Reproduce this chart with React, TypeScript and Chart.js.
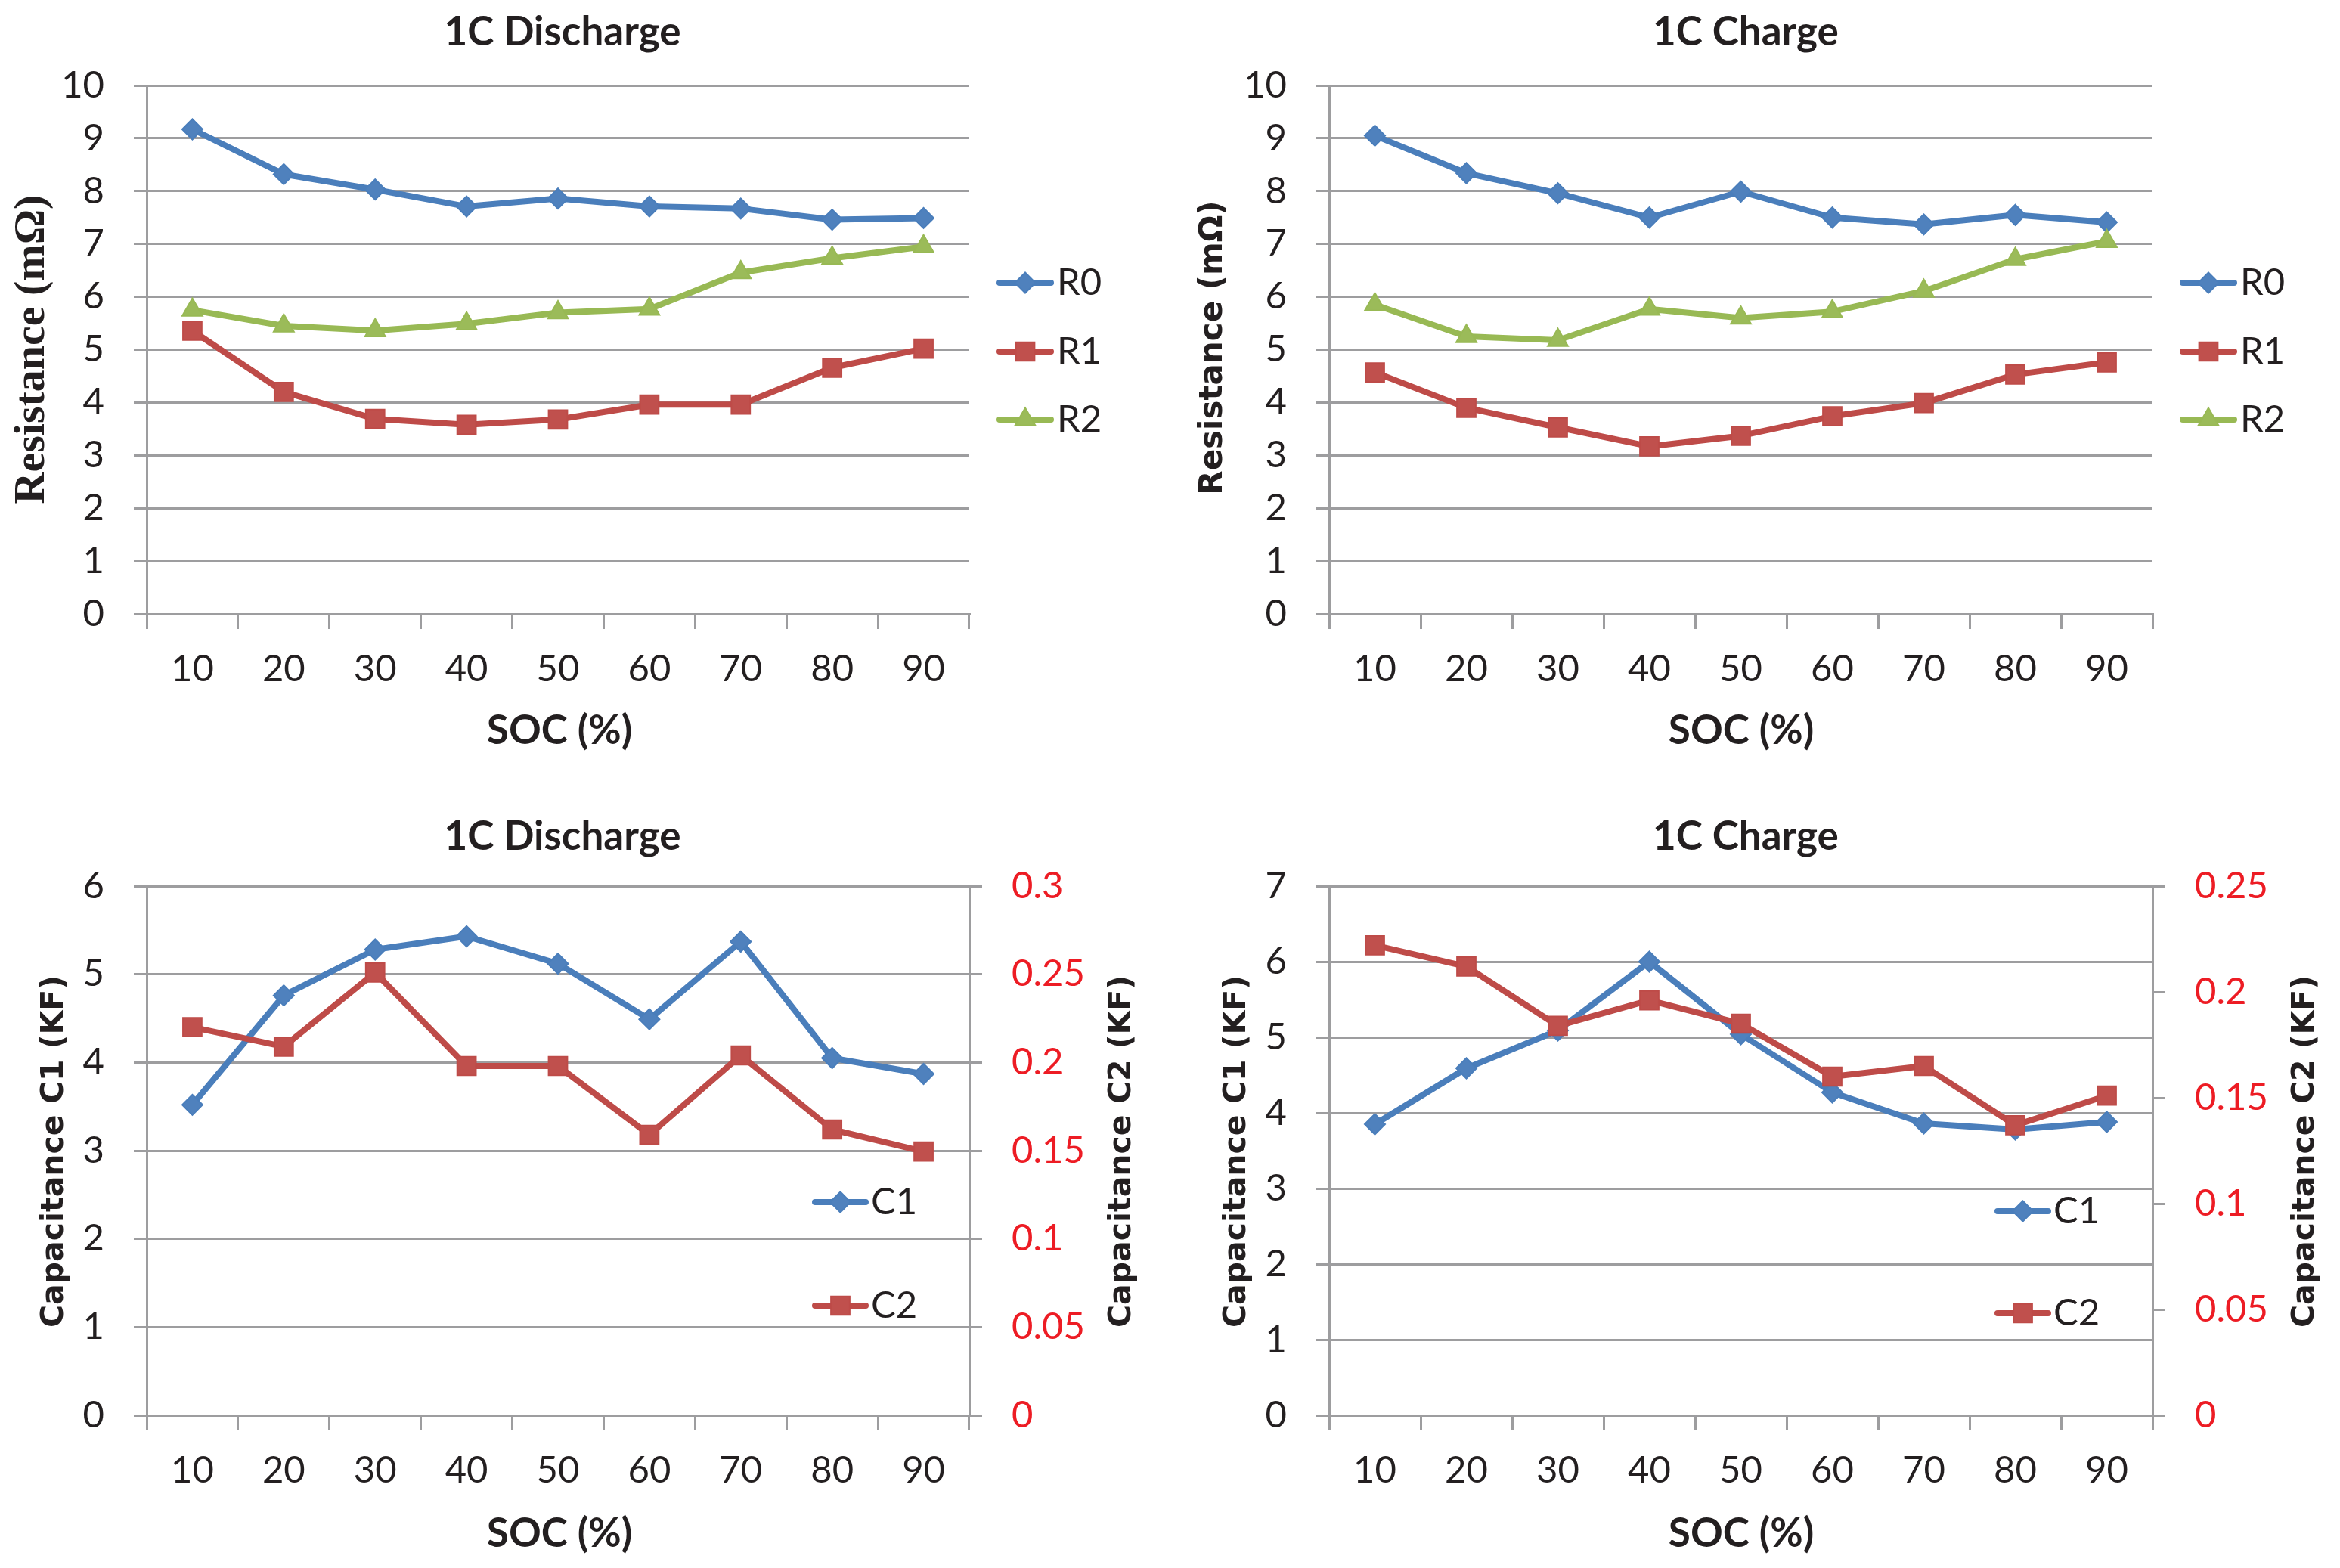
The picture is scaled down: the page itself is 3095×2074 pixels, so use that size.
import React, { useEffect, useRef } from 'react';
import { Chart, registerables } from 'chart.js';
import { drawPoint } from 'chart.js/helpers';

Chart.register(...registerables);

// ---------------- data ----------------
const SOC_LABELS = ['10', '20', '30', '40', '50', '60', '70', '80', '90'];

const DIS_R0 = [9.17, 8.32, 8.03, 7.71, 7.86, 7.71, 7.67, 7.46, 7.49];
const DIS_R1 = [5.36, 4.2, 3.69, 3.58, 3.68, 3.96, 3.96, 4.66, 5.02];
const DIS_R2 = [5.75, 5.45, 5.36, 5.49, 5.7, 5.77, 6.46, 6.73, 6.95];

const CHG_R0 = [9.05, 8.34, 7.96, 7.5, 7.99, 7.5, 7.37, 7.55, 7.41];
const CHG_R1 = [4.57, 3.9, 3.53, 3.17, 3.37, 3.74, 3.99, 4.53, 4.76];
const CHG_R2 = [5.85, 5.25, 5.18, 5.77, 5.6, 5.72, 6.11, 6.71, 7.05];

const DIS_C1 = [3.52, 4.76, 5.28, 5.43, 5.12, 4.49, 5.37, 4.05, 3.87];
const DIS_C2 = [0.22, 0.209, 0.251, 0.198, 0.198, 0.159, 0.204, 0.162, 0.1495];

const CHG_C1 = [3.85, 4.59, 5.09, 6.0, 5.04, 4.27, 3.86, 3.78, 3.88];
const CHG_C2 = [0.222, 0.212, 0.184, 0.196, 0.185, 0.16, 0.165, 0.137, 0.151];

// ---------------- styles ----------------
const UI_FONT = '"Lato", "DejaVu Sans Condensed", sans-serif';
const TEXT = '#231f20';
const GRID = '#9d9d9f';
const RED_TICK = '#ed1c24';

const BLUE = { line: '#4a7ebb', fill: '#4f81bd', shape: 'rectRot', r: 13.5 };
const RED = { line: '#be4b48', fill: '#c0504d', shape: 'rect', r: 17.5 };
const GREEN = { line: '#98b954', fill: '#9bbb59', shape: 'triangle', r: 15.5 };

function series(label: string, data: number[], st: any, order: number, yAxisID = 'y') {
  return {
    label,
    data,
    yAxisID,
    order,
    borderColor: st.line,
    backgroundColor: st.fill,
    borderWidth: 8,
    borderCapStyle: 'round',
    borderJoinStyle: 'round',
    pointStyle: st.shape,
    pointRadius: st.r,
    pointBackgroundColor: st.fill,
    pointBorderColor: st.line,
    pointBorderWidth: 2,
    tension: 0,
  };
}

type TextItem = { text: string; x: number; y: number; font: string; color?: string; rot?: number };

interface Spec {
  canvas: [number, number, number, number];
  plot: [number, number, number, number];
  datasets: any[];
  yMax: number;
  y1Max?: number;
  texts: TextItem[];
  legend: { x1: number; x2: number; tx: number; ys: number[] };
}

const TITLE_FONT = `bold 53px ${UI_FONT}`;
const SERIF_TITLE = 'bold 58px "Liberation Serif", "Times New Roman", serif';
const SANS_TITLE_R = 'bold 42px "DejaVu Sans", Verdana, sans-serif';
const SANS_TITLE_C = 'bold 41px "DejaVu Sans", Verdana, sans-serif';
const LEGEND_FONT = `49px ${UI_FONT}`;

const SPECS: Spec[] = [
  {
    canvas: [0, 0, 1548, 1037],
    plot: [194, 113, 1282, 812],
    datasets: [series('R0', DIS_R0, BLUE, 3), series('R1', DIS_R1, RED, 2), series('R2', DIS_R2, GREEN, 1)],
    yMax: 10,
    texts: [
      { text: '1C Discharge', x: 744, y: 43, font: TITLE_FONT },
      { text: 'Resistance (mΩ)', x: 43, y: 462, font: SERIF_TITLE, rot: -Math.PI / 2 },
      { text: 'SOC (%)', x: 740, y: 967, font: TITLE_FONT },
    ],
    legend: { x1: 1322, x2: 1390, tx: 1398, ys: [374, 465, 555] },
  },
  {
    canvas: [1548, 0, 1547, 1037],
    plot: [1758, 113, 2847, 812],
    datasets: [series('R0', CHG_R0, BLUE, 3), series('R1', CHG_R1, RED, 2), series('R2', CHG_R2, GREEN, 1)],
    yMax: 10,
    texts: [
      { text: '1C Charge', x: 2309, y: 43, font: TITLE_FONT },
      { text: 'Resistance (mΩ)', x: 1605, y: 460, font: SANS_TITLE_R, rot: -Math.PI / 2 },
      { text: 'SOC (%)', x: 2303, y: 967, font: TITLE_FONT },
    ],
    legend: { x1: 2887, x2: 2955, tx: 2963, ys: [374, 465, 555] },
  },
  {
    canvas: [0, 1037, 1548, 1037],
    plot: [194, 1172, 1282, 1872],
    datasets: [series('C1', DIS_C1, BLUE, 2), series('C2', DIS_C2, RED, 1, 'y1')],
    yMax: 6,
    y1Max: 0.3,
    texts: [
      { text: '1C Discharge', x: 744, y: 1107, font: TITLE_FONT },
      { text: 'Capacitance C1 (KF)', x: 72, y: 1523, font: SANS_TITLE_C, rot: -Math.PI / 2 },
      { text: 'Capacitance C2 (KF)', x: 1484, y: 1523, font: SANS_TITLE_C, rot: -Math.PI / 2 },
      { text: 'SOC (%)', x: 740, y: 2029, font: TITLE_FONT },
    ],
    legend: { x1: 1078, x2: 1145, tx: 1152, ys: [1590, 1727] },
  },
  {
    canvas: [1548, 1037, 1547, 1037],
    plot: [1758, 1172, 2847, 1872],
    datasets: [series('C1', CHG_C1, BLUE, 2), series('C2', CHG_C2, RED, 1, 'y1')],
    yMax: 7,
    y1Max: 0.25,
    texts: [
      { text: '1C Charge', x: 2309, y: 1107, font: TITLE_FONT },
      { text: 'Capacitance C1 (KF)', x: 1636, y: 1523, font: SANS_TITLE_C, rot: -Math.PI / 2 },
      { text: 'Capacitance C2 (KF)', x: 3049, y: 1523, font: SANS_TITLE_C, rot: -Math.PI / 2 },
      { text: 'SOC (%)', x: 2303, y: 2029, font: TITLE_FONT },
    ],
    legend: { x1: 2642, x2: 2709, tx: 2716, ys: [1602, 1737] },
  },
];

function overlayPlugin(spec: Spec) {
  const [cx, cy] = spec.canvas;
  return {
    id: 'overlay',
    afterDraw(chart: any) {
      const ctx: CanvasRenderingContext2D = chart.ctx;
      ctx.save();
      for (const t of spec.texts) {
        ctx.save();
        ctx.translate(t.x - cx, t.y - cy);
        if (t.rot) ctx.rotate(t.rot);
        ctx.font = t.font;
        ctx.fillStyle = t.color || TEXT;
        ctx.textAlign = 'center';
        ctx.textBaseline = 'middle';
        ctx.fillText(t.text, 0, 0);
        ctx.restore();
      }
      const lg = spec.legend;
      chart.data.datasets.forEach((ds: any, i: number) => {
        const y = lg.ys[i] - cy;
        ctx.save();
        ctx.lineWidth = ds.borderWidth;
        ctx.strokeStyle = ds.borderColor;
        ctx.lineCap = 'round';
        ctx.beginPath();
        ctx.moveTo(lg.x1 - cx, y);
        ctx.lineTo(lg.x2 - cx, y);
        ctx.stroke();
        ctx.fillStyle = ds.pointBackgroundColor;
        ctx.strokeStyle = ds.pointBorderColor;
        ctx.lineWidth = ds.pointBorderWidth;
        drawPoint(ctx, { pointStyle: ds.pointStyle, radius: ds.pointRadius, rotation: 0, borderWidth: ds.pointBorderWidth } as any, (lg.x1 + lg.x2) / 2 - cx, y);
        ctx.font = LEGEND_FONT;
        ctx.fillStyle = TEXT;
        ctx.textAlign = 'left';
        ctx.textBaseline = 'middle';
        ctx.fillText(ds.label, lg.tx - cx, y);
        ctx.restore();
      });
      ctx.restore();
    },
  };
}

function buildConfig(spec: Spec): any {
  const [cx, cy, cw, ch] = spec.canvas;
  const [L, T, R, B] = spec.plot;
  const hasRight = spec.y1Max !== undefined;
  const tickFont = { family: UI_FONT, size: 49 };
  const scales: any = {
    x: {
      type: 'category',
      offset: true,
      afterFit: (s: any) => {
        s.height = cy + ch - B;
      },
      grid: { display: true, drawOnChartArea: false, drawTicks: true, tickLength: 20, color: GRID, lineWidth: 3, offset: true },
      border: { display: true, color: GRID, width: 3 },
      ticks: { font: tickFont, color: TEXT, padding: 24, maxRotation: 0, autoSkip: false },
    },
    y: {
      type: 'linear',
      position: 'left',
      min: 0,
      max: spec.yMax,
      afterFit: (s: any) => {
        s.width = L - cx;
      },
      grid: { color: GRID, lineWidth: 3, tickLength: 17, drawTicks: true },
      border: { display: true, color: GRID, width: 3 },
      ticks: { stepSize: 1, font: tickFont, color: TEXT, padding: 39 },
    },
  };
  if (hasRight) {
    scales.y1 = {
      type: 'linear',
      position: 'right',
      min: 0,
      max: spec.y1Max,
      afterFit: (s: any) => {
        s.width = cx + cw - R;
      },
      grid: { drawOnChartArea: false, color: GRID, lineWidth: 3, tickLength: 17, drawTicks: true },
      border: { display: true, color: GRID, width: 3 },
      ticks: {
        stepSize: 0.05,
        font: tickFont,
        color: RED_TICK,
        padding: 39,
        callback: (v: any) => String(Number(Number(v).toFixed(2))),
      },
    };
  }
  return {
    type: 'line',
    data: { labels: SOC_LABELS, datasets: spec.datasets },
    options: {
      animation: false,
      responsive: false,
      maintainAspectRatio: false,
      devicePixelRatio: 1,
      events: [],
      layout: { padding: { left: 0, top: T - cy, right: hasRight ? 0 : cx + cw - R, bottom: 0 } },
      plugins: { legend: { display: false }, title: { display: false }, tooltip: { enabled: false } },
      scales,
    },
    plugins: [overlayPlugin(spec)],
  };
}

function ChartPanel({ spec }: { spec: Spec }) {
  const ref = useRef<HTMLCanvasElement>(null);
  useEffect(() => {
    const chart = new Chart(ref.current as HTMLCanvasElement, buildConfig(spec));
    return () => chart.destroy();
  }, [spec]);
  const [cx, cy, cw, ch] = spec.canvas;
  return (
    <canvas
      ref={ref}
      width={cw}
      height={ch}
      style={{ position: 'absolute', left: cx, top: cy, width: cw, height: ch }}
    />
  );
}

export default function App() {
  return (
    <div style={{ position: 'fixed', left: 0, top: 0, width: 3095, height: 2074, background: '#ffffff', overflow: 'hidden' }}>
      {SPECS.map((s, i) => (
        <ChartPanel key={i} spec={s} />
      ))}
    </div>
  );
}
